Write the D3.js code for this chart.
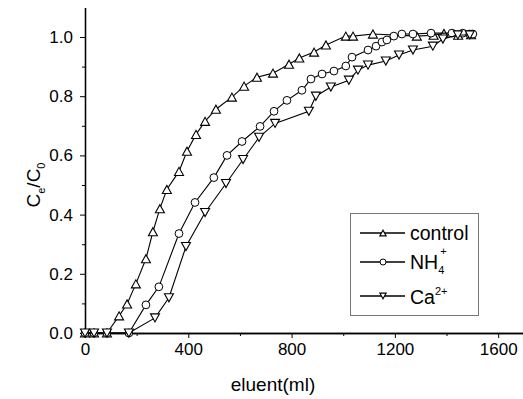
<!DOCTYPE html>
<html><head><meta charset="utf-8">
<script src="https://cdnjs.cloudflare.com/ajax/libs/d3/7.8.5/d3.min.js"></script>
<style>body{margin:0;background:#fff}svg{display:block}text{font-family:"Liberation Sans",Arial,sans-serif;fill:#000}</style>
</head><body><svg id="c" width="523" height="399"></svg>
<script>
const controlX = [0,35,85,132,163,197,236,263,290,317,364,395,430,465,507,569,616,666,728,790,830,887,933,1010,1038,1115,1285,1350,1390,1445,1495];
const controlY = [0,0,0,0.058,0.098,0.166,0.251,0.342,0.420,0.485,0.546,0.614,0.671,0.715,0.756,0.797,0.834,0.864,0.878,0.908,0.929,0.949,0.973,1.003,1.003,1.010,1.003,1.006,1.012,1.006,1.008];
const nh4X = [0,35,85,170,236,286,364,426,499,550,608,678,732,782,840,875,918,964,1010,1034,1096,1127,1150,1169,1196,1227,1270,1340,1421,1463,1490,1502];
const nh4Y = [0,0,0,0,0.095,0.156,0.336,0.441,0.525,0.600,0.647,0.698,0.749,0.786,0.820,0.858,0.875,0.885,0.902,0.932,0.956,0.969,0.983,0.990,1.003,1.010,1.010,1.013,1.013,1.013,1.010,1.010];
const caX = [0,35,85,170,271,325,391,465,546,612,674,736,867,894,952,1022,1057,1096,1165,1216,1270,1347,1386,1444,1490];
const caY = [0,0,0,0,0.051,0.119,0.292,0.407,0.505,0.586,0.661,0.708,0.749,0.800,0.831,0.854,0.888,0.905,0.919,0.939,0.956,0.969,0.993,1.007,1.007];
const xTicks = [0,400,800,1200,1600];
const xMinor = [200,600,1000,1400];
const yTicks = [0,0.2,0.4,0.6,0.8,1.0];
const yMinor = [0.1,0.3,0.5,0.7,0.9];

const svg = d3.select("#c");
const x = d3.scaleLinear().domain([0,1700]).range([85,524]);
const y = d3.scaleLinear().domain([0,1.1]).range([333,7.4]);

// axes
const xa = svg.append("g").attr("transform","translate(0,333)");
xa.call(d3.axisBottom(x).tickValues(xTicks).tickSize(5).tickSizeOuter(0).tickPadding(5).tickFormat(d3.format("d")));
xa.append("g").call(d3.axisBottom(x).tickValues(xMinor).tickSize(3).tickSizeOuter(0).tickFormat(""));
const ya = svg.append("g").attr("transform","translate(85,0)");
ya.call(d3.axisLeft(y).tickValues(yTicks).tickSize(5).tickSizeOuter(0).tickPadding(7).tickFormat(d3.format(".1f")));
ya.append("g").call(d3.axisLeft(y).tickValues(yMinor).tickSize(3).tickSizeOuter(0).tickFormat(""));
svg.selectAll(".domain").attr("stroke","#000").attr("stroke-width",1.3);
svg.selectAll(".tick line").attr("stroke","#000");
svg.selectAll(".tick text").attr("font-size",17).attr("font-family","Liberation Sans, Arial, sans-serif");

function marker(sel, type, s){
  if(type==="circle"){ sel.append("circle").attr("r",s).attr("fill","#fff").attr("stroke","#000").attr("stroke-width",1); return; }
  const h = s*1.8, w = s;
  const p = type==="up" ? `M${-w},${h/2}L${w},${h/2}L0,${-h/2}Z` : `M${-w},${-h/2}L${w},${-h/2}L0,${h/2}Z`;
  sel.append("path").attr("d",p).attr("fill","#fff").attr("stroke","#000").attr("stroke-width",1.1);
}
const series = [
  {xs:controlX, ys:controlY, type:"up"},
  {xs:nh4X, ys:nh4Y, type:"circle"},
  {xs:caX, ys:caY, type:"down"}
];
const line = d3.line().x(d=>x(d[0])).y(d=>y(d[1]));
series.forEach(s=>{
  const pts = s.xs.map((v,i)=>[v,s.ys[i]]);
  svg.append("path").datum(pts).attr("d",line).attr("fill","none").attr("stroke","#000").attr("stroke-width",1.1);
  pts.forEach(p=>{
    const g = svg.append("g").attr("transform",`translate(${x(p[0])},${y(p[1])})`);
    marker(g, s.type, s.type==="circle"?3.9:4.5);
  });
});

// axis titles
svg.append("text").attr("x",273).attr("y",391).attr("text-anchor","middle").attr("font-size",19).text("eluent(ml)");
const yt = svg.append("text").attr("transform","translate(40,185) rotate(-90)").attr("text-anchor","middle").attr("font-size",19);
yt.append("tspan").text("C");
yt.append("tspan").attr("font-size",11).attr("dy",5).text("e");
yt.append("tspan").attr("dy",-5).text("/C");
yt.append("tspan").attr("font-size",11).attr("dy",5).text("0");

// legend
const lg = svg.append("g");
lg.append("rect").attr("x",350.5).attr("y",213.5).attr("width",128).attr("height",102).attr("fill","#fff").attr("stroke","#777").attr("stroke-width",1);
const legItems = [
  {type:"up", y:233},
  {type:"circle", y:262},
  {type:"down", y:296}
];
legItems.forEach(it=>{
  lg.append("line").attr("x1",360).attr("x2",405).attr("y1",it.y).attr("y2",it.y).attr("stroke","#000").attr("stroke-width",1.3);
  const g = lg.append("g").attr("transform",`translate(383,${it.y})`);
  marker(g, it.type, it.type==="circle"?3:3.2);
});
lg.append("text").attr("x",410).attr("y",240).attr("font-size",19.5).text("control");
const t2 = lg.append("text").attr("x",410).attr("y",269).attr("font-size",19.5);
t2.append("tspan").text("NH");
t2.append("tspan").attr("font-size",11).attr("dy",5).text("4");
t2.append("tspan").attr("font-size",11).attr("dx",-4).attr("dy",-19).text("+");
const t3 = lg.append("text").attr("x",410).attr("y",304).attr("font-size",19.5);
t3.append("tspan").text("Ca");
t3.append("tspan").attr("font-size",11).attr("dy",-9).text("2+");
</script></body></html>
